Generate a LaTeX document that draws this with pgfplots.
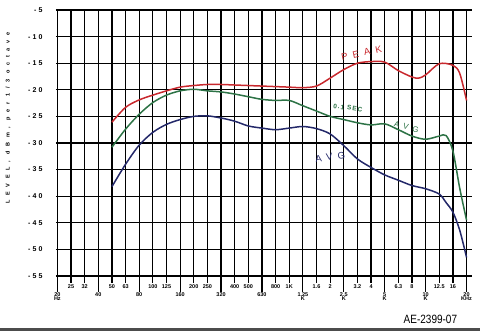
\documentclass[border=0pt]{standalone}
\usepackage{fontspec}
\setmainfont{Liberation Sans}
\newfontfamily\handA[LetterSpace=55]{Liberation Sans}
\newfontfamily\handY[LetterSpace=85]{Liberation Sans}
\newfontfamily\handB[LetterSpace=30]{Liberation Sans}
\newfontfamily\handC[LetterSpace=15]{Liberation Sans}
\usepackage{pgfplots}
\pgfplotsset{compat=1.18}
\definecolor{pk}{RGB}{200,40,45}
\definecolor{gr}{RGB}{45,115,70}
\definecolor{bl}{RGB}{35,40,105}
\newcommand{\un}[1]{{\fontsize{5.5}{5.5}\selectfont #1}}
\begin{document}
\begin{tikzpicture}
\useasboundingbox (0,0) rectangle (480pt,331pt);
\fill[black!70] (0,0) rectangle (480pt,3pt);
\begin{axis}[
  at={(56pt,55pt)}, anchor=south west, scale only axis,
  width=416pt, height=266pt,
  xmin=-0.1, xmax=30.4, ymin=-55, ymax=-5,
  axis line style={draw=none},
  clip=false,
  grid=major,
  major grid style={black, line width=1.2pt},
  ytick={-55,-50,...,-5},
  yticklabels={-55,-50,-45,-40,-35,-30,-25,-20,-15,-10,-5},
  ytick style={draw=none},
  yticklabel style={font=\handB\bfseries\fontsize{7}{7}\selectfont, xshift=-3pt},
  xtick={0,...,30},
  xticklabels={{},25,32,{},50,63,{},100,125,{},200,250,{},400,500,{},800,1K,{},1.6,2,{},3.2,4,{},6.3,8,{},12.5,16,{}},
  xticklabel style={font=\bfseries\fontsize{5.5}{5.5}\selectfont, yshift=2pt},
  tick align=outside, tick pos=left,
  xtick style={black, line width=1.2pt},
  major tick length=7pt,
  extra x ticks={0,3,6,9,12,15,18,21,24,27,30},
  extra x tick labels={{20\\[-1pt]\un{Hz}},{40},{80},{160},{320},{630},{1.25\\[-1pt]\un{K}},{2.5\\[-1pt]\un{K}},{5\\[-1pt]\un{K}},{10\\[-1pt]\un{K}},{20\\[-1pt]\un{KHz}}},
  extra x tick style={grid=none, major tick length=16pt,
    tick label style={font=\handC\bfseries\fontsize{9}{9}\selectfont, align=center, anchor=north, yshift=1pt}},
]
\addplot[pk, line width=1.5pt, smooth, tension=0.5] coordinates {
(4,-26.1)(5,-23.3)(6,-21.9)(7,-21.0)(8,-20.2)(9,-19.5)(10,-19.2)(11,-19.0)(12,-19.0)
(13,-19.1)(14,-19.2)(15,-19.3)(16,-19.4)(17,-19.5)(18,-19.6)(19,-19.3)(20,-17.8)
(21,-16.2)(22,-15.0)(23,-14.7)(24,-14.8)(25,-16.4)(26,-17.6)(26.5,-17.8)(27,-17.2)
(28,-15.1)(29,-15.4)(29.5,-16.9)(30,-22)};
\addplot[gr, line width=1.5pt, smooth, tension=0.5] coordinates {
(4,-30.8)(5,-27.4)(6,-24.6)(7,-22.4)(8,-21.0)(9,-20.2)(10,-19.9)(11,-20.2)(12,-20.4)
(13,-20.8)(14,-21.3)(15,-21.8)(16,-22.0)(17,-22.0)(18,-23.0)(19,-24.0)(20,-25.0)
(21,-25.6)(22,-26.2)(23,-26.6)(24,-26.4)(25,-27.5)(26,-28.7)(27,-29.3)(28,-28.7)
(28.5,-28.6)(29,-31.5)(29.5,-38.5)(30,-44.5)};
\addplot[bl, line width=1.5pt, smooth, tension=0.5] coordinates {
(4,-38.2)(5,-34.0)(6,-30.4)(7,-28.0)(8,-26.5)(9,-25.6)(10,-25.0)(11,-24.9)(12,-25.3)
(13,-25.9)(14,-26.8)(15,-27.2)(16,-27.5)(17,-27.2)(18,-26.9)(19,-27.3)(20,-28.3)
(21,-30.5)(22,-33.0)(23,-34.6)(24,-36.0)(25,-37.0)(26,-38.0)(27,-38.6)(28,-39.6)
(28.5,-41.2)(29,-43.0)(29.5,-46.4)(30,-51.5)};
\node[pk, rotate=12, font=\handA\fontsize{9.5}{9.5}\selectfont] at (axis cs:22.3,-13.1) {PEAK};
\node[gr, rotate=-8, font=\handC\bfseries\fontsize{6.5}{6.5}\selectfont] at (axis cs:21.3,-23.4) {0.1 SEC};
\node[gr, rotate=-15, font=\handA\fontsize{8}{8}\selectfont] at (axis cs:25.6,-27) {AVG};
\node[bl, rotate=8, font=\handA\fontsize{9.5}{9.5}\selectfont] at (axis cs:20.0,-32.6) {AVG};
\node[rotate=90, font=\handY\bfseries\fontsize{5.5}{5.5}\selectfont] at (rel axis cs:-0.115,0.594) {LEVEL, dBm, per 1/3 octave};
\node[font=\fontsize{10}{10}\selectfont, yscale=1.2] at (rel axis cs:0.9,-0.162) {AE-2399-07};
\end{axis}
\end{tikzpicture}
\end{document}
